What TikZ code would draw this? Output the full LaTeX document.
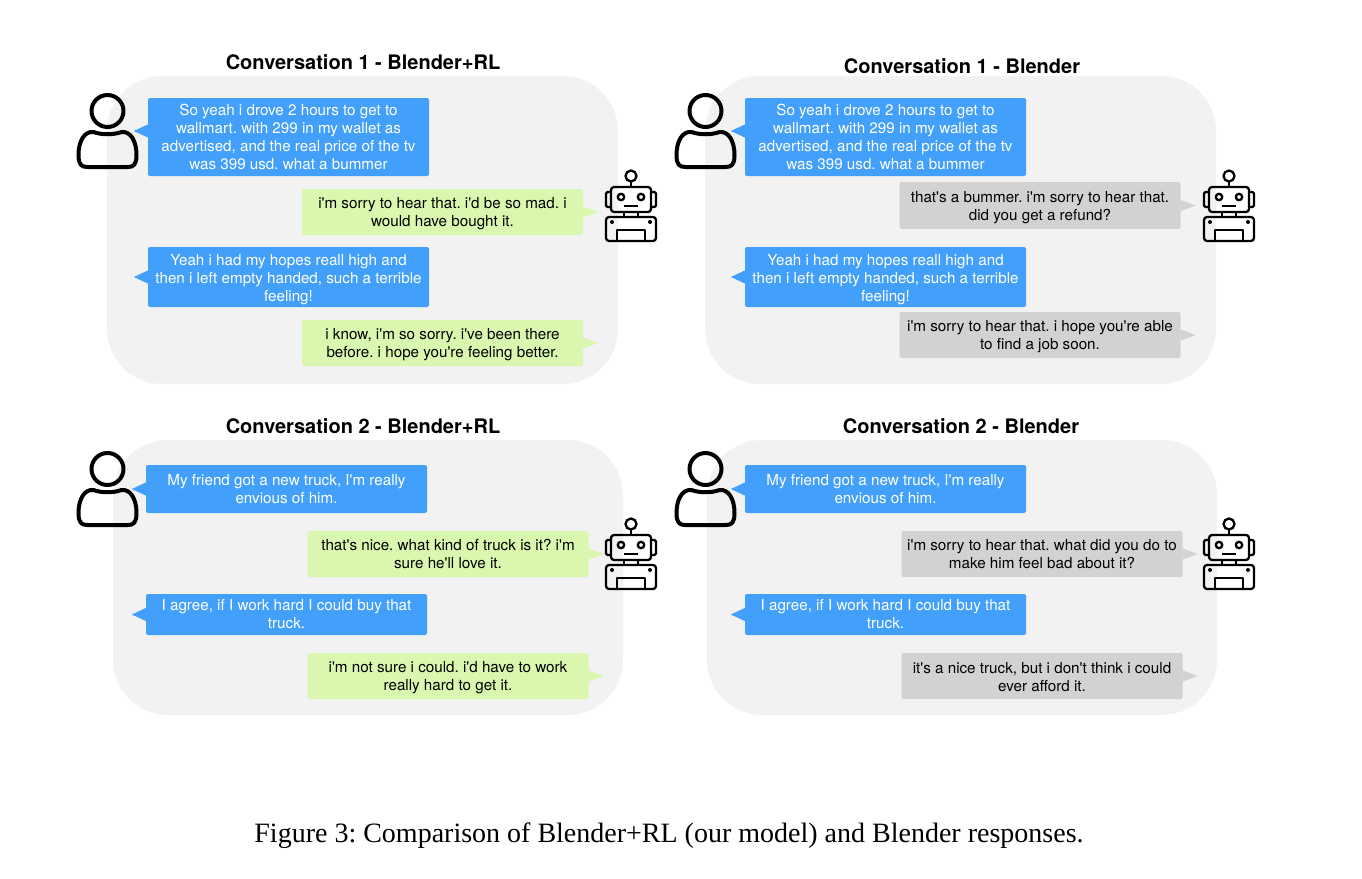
\documentclass[tikz,border=0pt]{standalone}
\usepackage{fontspec}
\setmainfont{TeX Gyre Heros}
\newfontfamily\bubfont{TeX Gyre Heros}
\newfontfamily\capfont{Liberation Serif}
\definecolor{bubblue}{HTML}{42A0FB}
\definecolor{bubgreen}{HTML}{D9F7AE}
\definecolor{bubgray}{HTML}{D2D2D2}
\definecolor{panelgray}{HTML}{F2F2F2}
\tikzset{
    panel/.style={fill=panelgray, rounded corners=55pt}, % the big soft background boxes
    title/.style={font=\fontsize{20}{22}\selectfont\bfseries},
    bubble/.style={rounded corners=2pt, align=center, inner sep=0pt, minimum width=281pt,
        font=\bubfont\fontsize{15.2}{18}\selectfont},
    userbub/.style={bubble, fill=bubblue, text=white},
    rlbub/.style={bubble, fill=bubgreen, text=black},
    basebub/.style={bubble, fill=bubgray, text=black},
    icon/.style={draw=black, line width=2.3pt, line join=round},
    pics/person/.style={code={
        \draw[icon, line width=4pt] (0,0) circle (16);
        \draw[icon, line width=4pt] (-14,21) .. controls (-6,24) and (6,24) .. (14,21)
            .. controls (23,20) and (29,30) .. (29,44)
            .. controls (29,54) and (26,56) .. (20,56) -- (-20,56)
            .. controls (-26,56) and (-29,54) .. (-29,44)
            .. controls (-29,30) and (-23,20) .. (-14,21) -- cycle;
    }},
    pics/robot/.style={code={
        \draw[icon] (0,0) circle (5.5);
        \draw[icon] (0,5.5) -- (0,11);
        \draw[icon, rounded corners=3pt] (-20,11) rectangle (20,36);
        \draw[icon, rounded corners=1.5pt] (-20,16) -- (-25,16) -- (-25,31) -- (-20,31);
        \draw[icon, rounded corners=1.5pt] (20,16) -- (25,16) -- (25,31) -- (20,31);
        \draw[icon] (-10,21) circle (3.2);
        \draw[icon] (10,21) circle (3.2);
        \draw[icon, line width=1.8pt] (-7,30) -- (7,30);
        \draw[icon] (-7,36) -- (-7,41) (7,36) -- (7,41);
        \draw[icon, rounded corners=3pt] (-25,65) -- (-25,41) -- (25,41) -- (25,65) -- cycle;
        \draw[icon] (-14,65) -- (-14,54) -- (14,54) -- (14,65);
        \fill (-19,46) circle (2);
        \fill (19,46) circle (2);
    }},
}
% tail of a bubble: name, shift along the side
\newcommand{\tailleft}[2]{\fill[bubblue] ([yshift=#2+6.5pt]#1.west) -- ([xshift=-14pt,yshift=#2]#1.west) -- ([yshift=#2-6.5pt]#1.west) -- cycle;}
\newcommand{\tailright}[2]{\fill[#2] ([yshift=5.5pt]#1.east) -- ([xshift=15pt]#1.east) -- ([yshift=-5.5pt]#1.east) -- cycle;}
% pushes the lines of a bubble down a little
\newcommand{\lowerby}[1]{\rule{0pt}{\dimexpr 11pt+2\dimexpr #1pt\relax\relax}}
\begin{document}
\frenchspacing
\begin{tikzpicture}[x=1pt, y=-1pt]
    \useasboundingbox (0,0) rectangle (1362,878);
    % panels
    \fill[panel] (107,76) rectangle (618,384);
    \fill[panel] (705,76) rectangle (1216,384);
    \fill[panel] (113,440) rectangle (623,715);
    \fill[panel] (707,440) rectangle (1217,715);
    % titles
    \node[title] (t1) at (363,62) {Conversation 1 - Blender+RL};
    \node[title] (t2) at (962,66) {Conversation 1 - Blender};
    \node[title] (t3) at (363,426) {Conversation 2 - Blender+RL};
    \node[title] (t4) at (961,426) {Conversation 2 - Blender};
    % icons
    \pic at (107.5,111) {person};
    \pic at (705.5,111) {person};
    \pic at (107.5,469) {person};
    \pic at (705.5,469) {person};
    \pic at (631,176) {robot};
    \pic at (1229,176) {robot};
    \pic at (631,524) {robot};
    \pic at (1229,524) {robot};
    % conversation 1, blender+rl
    \node[userbub, minimum height=78pt] (a1) at (288.5,137) {So yeah i drove 2 hours to get to\\wallmart. with 299 in my wallet as\\advertised, and the real price of the tv\\was 399 usd. what a bummer};
    \node[rlbub, minimum height=46pt] (a2) at (442.5,212) {\lowerby{2}i'm sorry to hear that. i'd be so mad. i\\would have bought it.};
    \node[userbub, minimum height=60pt] (a3) at (288.5,277) {\lowerby{3}Yeah i had my hopes reall high and\\then i left empty handed, such a terrible\\feeling!};
    \node[rlbub, minimum height=46pt] (a4) at (442.5,343) {\lowerby{1.5}i know, i'm so sorry. i've been there\\before. i hope you're feeling better.};
    % conversation 1, blender
    \node[userbub, minimum height=78pt] (b1) at (885.5,137) {So yeah i drove 2 hours to get to\\wallmart. with 299 in my wallet as\\advertised, and the real price of the tv\\was 399 usd. what a bummer};
    \node[basebub, minimum height=47pt] (b2) at (1040,205.5) {\lowerby{2.5}that's a bummer. i'm sorry to hear that.\\did you get a refund?};
    \node[userbub, minimum height=60pt] (b3) at (885.5,277) {\lowerby{3}Yeah i had my hopes reall high and\\then i left empty handed, such a terrible\\feeling!};
    \node[basebub, minimum height=46pt] (b4) at (1040,335) {\lowerby{1.5}i'm sorry to hear that. i hope you're able\\to find a job soon.};
    % conversation 2, blender+rl
    \node[userbub, minimum height=48pt] (c1) at (286.5,489) {My friend got a new truck, I'm really\\envious of him.};
    \node[rlbub, minimum height=46pt] (c2) at (448,554) {that's nice. what kind of truck is it? i'm\\sure he'll love it.};
    \node[userbub, minimum height=41pt] (c3) at (286.5,614.5) {I agree, if I work hard I could buy that\\truck.};
    \node[rlbub, minimum height=46pt] (c4) at (448,676) {\lowerby{1.5}i'm not sure i could. i'd have to work\\really hard to get it.};
    % conversation 2, blender
    \node[userbub, minimum height=48pt] (d1) at (885.5,489) {My friend got a new truck, I'm really\\envious of him.};
    \node[basebub, minimum height=46pt] (d2) at (1042,554) {i'm sorry to hear that. what did you do to\\make him feel bad about it?};
    \node[userbub, minimum height=41pt] (d3) at (885.5,614.5) {I agree, if I work hard I could buy that\\truck.};
    \node[basebub, minimum height=46pt] (d4) at (1042,676) {\lowerby{1.5}it's a nice truck, but i don't think i could\\ever afford it.};
    % tails
    \tailleft{a1}{6pt}
    \tailleft{b1}{6pt}
    \foreach \n in {a3,b3,c1,c3,d1,d3} {\tailleft{\n}{0pt}}
    \foreach \n in {a2,a4,c2,c4} {\tailright{\n}{bubgreen}}
    \foreach \n in {b2,b4,d2,d4} {\tailright{\n}{bubgray}}
    % caption
    \node[font=\capfont\fontsize{28}{30}\selectfont] (cap) at (669,835.5) {Figure 3: Comparison of Blender+RL (our model) and Blender responses.};
\end{tikzpicture}
\end{document}
